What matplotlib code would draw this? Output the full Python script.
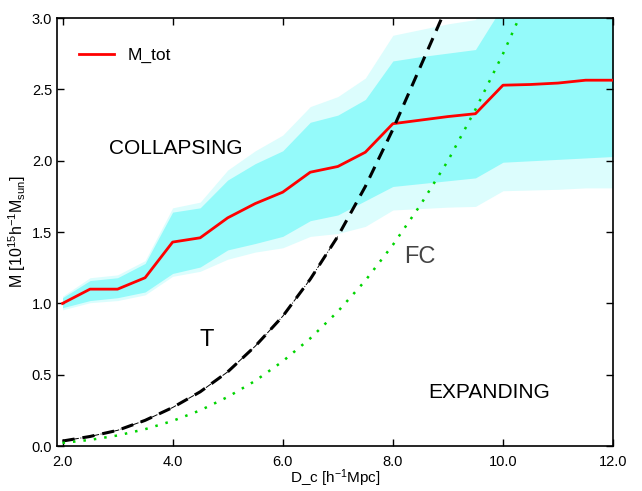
import matplotlib
matplotlib.use("Agg")
import matplotlib.pyplot as plt
import numpy as np

plt.rcParams["font.family"] = ["Liberation Sans", "DejaVu Sans"]
plt.rcParams["mathtext.default"] = "regular"

# cluster mass profile vs comoving distance
d_c = [2.0, 2.5, 3.0, 3.5, 4.0, 4.5, 5.0, 5.5, 6.0, 6.5, 7.0,
       7.5, 8.0, 8.5, 9.0, 9.5, 10.0, 10.5, 11.0, 11.5, 12.0]
m_tot = [1.00, 1.10, 1.10, 1.18, 1.43, 1.46, 1.60, 1.70, 1.78, 1.92, 1.96,
         2.06, 2.26, 2.285, 2.31, 2.33, 2.53, 2.535, 2.545, 2.565, 2.565]
# 1-sigma (inner) and 2-sigma (outer) envelopes
inner_lo = [0.97, 1.02, 1.04, 1.08, 1.21, 1.255, 1.375, 1.42, 1.47, 1.58, 1.62,
            1.72, 1.82, 1.84, 1.86, 1.88, 1.99, 2.00, 2.01, 2.02, 2.03]
inner_hi = [1.04, 1.16, 1.18, 1.28, 1.64, 1.67, 1.865, 1.98, 2.07, 2.27, 2.32,
            2.43, 2.70, 2.73, 2.755, 2.78, 3.09, 3.10, 3.11, 3.12, 3.12]
outer_lo = [0.955, 1.005, 1.02, 1.06, 1.19, 1.225, 1.31, 1.36, 1.39, 1.47, 1.49,
            1.54, 1.655, 1.665, 1.675, 1.68, 1.79, 1.795, 1.80, 1.81, 1.81]
outer_hi = [1.05, 1.18, 1.20, 1.30, 1.67, 1.71, 1.935, 2.07, 2.18, 2.38, 2.45,
            2.58, 2.88, 2.92, 2.96, 2.99, 3.35, 3.37, 3.39, 3.40, 3.40]

# turnaround (T) and free-collapse (FC) boundaries
t_x = [2.0, 2.5, 3.0, 3.5, 4.0, 4.5, 5.0, 5.5, 6.0, 6.5, 7.0, 7.5, 8.0, 8.5, 9.0]
t_m = [0.035, 0.067, 0.11, 0.18, 0.27, 0.38, 0.52, 0.70, 0.91, 1.17, 1.47,
       1.82, 2.22, 2.66, 3.10]
fc_x = [2.0, 2.5, 3.0, 3.5, 4.0, 4.5, 5.0, 5.5, 6.0, 6.5, 7.0, 7.5, 8.0,
        8.5, 9.0, 9.5, 10.0, 10.5]
fc_m = [0.022, 0.043, 0.074, 0.118, 0.176, 0.25, 0.344, 0.457, 0.594, 0.755,
        0.943, 1.16, 1.41, 1.69, 2.00, 2.36, 2.75, 3.18]

fig = plt.figure(figsize=(6.42, 4.91), dpi=100)
ax = fig.add_axes([0.0888, 0.0916, 0.8662, 0.8714])

ax.fill_between(d_c, outer_lo, outer_hi, color="#dcfdfd", lw=0)
ax.fill_between(d_c, inner_lo, inner_hi, color="#94fafa", lw=0)
ax.plot(d_c, m_tot, color="red", lw=2, label="M_tot", zorder=3)

ax.plot(t_x, t_m, color="black", lw=2.2, dashes=(4, 2.6), zorder=4)
t_arr = np.array(t_x)
low = t_arr <= 7.0
ax.plot(t_arr[low], np.array(t_m)[low], color="black", lw=0.7, ls="-.", zorder=4)
ax.plot(fc_x, fc_m, color="#00d400", lw=1.8, linestyle=(0, (1, 3.2)), zorder=4)

ax.text(2.85, 2.05, "COLLAPSING", fontsize=15, va="baseline")
ax.text(4.49, 0.70, "T", fontsize=17, va="baseline")
ax.text(8.21, 1.285, "FC", fontsize=17, va="baseline", color="#444444")
ax.text(8.65, 0.34, "EXPANDING", fontsize=15, va="baseline")

ax.set_xlim(1.9, 12.0)
ax.set_ylim(0.0, 3.0)
ax.set_xticks([2, 4, 6, 8, 10, 12])
ax.set_yticks([0.0, 0.5, 1.0, 1.5, 2.0, 2.5, 3.0])
ax.xaxis.set_major_formatter(matplotlib.ticker.FormatStrFormatter("%.1f"))
ax.yaxis.set_major_formatter(matplotlib.ticker.FormatStrFormatter("%.1f"))
ax.tick_params(direction="in", top=True, right=True, length=4.7, width=1,
               labelsize=10.5)
ax.tick_params(axis="x", pad=6.5)
for sp in ax.spines.values():
    sp.set_linewidth(1.2)

ax.set_xlabel("D_c [h$^{-1}$Mpc]", fontsize=11)
ax.set_ylabel("M [10$^{15}$h$^{-1}$M$_{sun}$]", fontsize=11.5)
ax.xaxis.set_label_coords(0.5, -0.051)
ax.yaxis.set_label_coords(-0.053, 0.5)

ax.legend(loc="upper left", bbox_to_anchor=(0.012, 0.967), frameon=False,
          fontsize=12.5, handlelength=2.0)

fig.savefig("out.png", dpi=100)
